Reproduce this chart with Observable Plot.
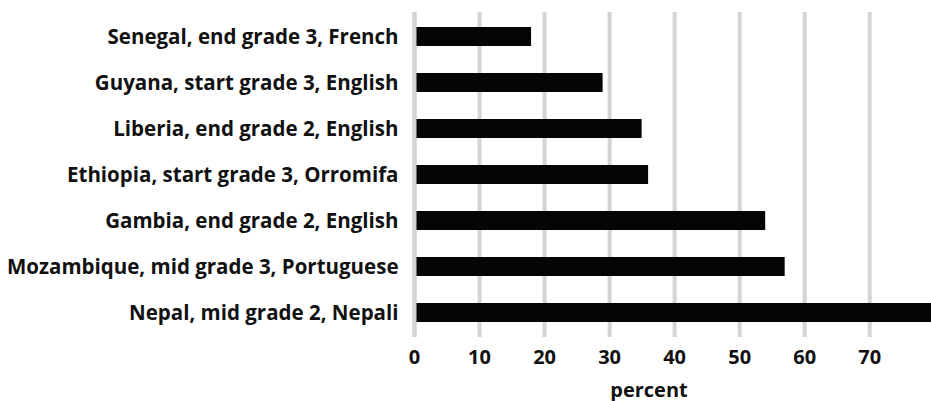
<!DOCTYPE html>
<html>
<head>
<meta charset="utf-8">
<script src="https://cdn.jsdelivr.net/npm/d3@7"></script>
<script src="https://cdn.jsdelivr.net/npm/@observablehq/plot@0.6"></script>
<style>
  html, body { margin: 0; padding: 0; background: #fff; }
  #chart svg { display: block; }
</style>
</head>
<body>
<div id="chart"></div>
<script>
const categories = [
  "Senegal, end grade 3, French",
  "Guyana, start grade 3, English",
  "Liberia, end grade 2, English",
  "Ethiopia, start grade 3, Orromifa",
  "Gambia, end grade 2, English",
  "Mozambique, mid grade 3, Portuguese",
  "Nepal, mid grade 2, Nepali"
];
const values = [18, 29, 35, 36, 54, 57, 80];
const xTicks = [0, 10, 20, 30, 40, 50, 60, 70];
const xLabel = "percent";

const data = categories.map((c, i) => ({category: c, value: values[i]}));

const chart = Plot.plot({
  width: 931,
  height: 401,
  marginLeft: 414,
  marginRight: 0,
  marginTop: 12,
  marginBottom: 64,
  style: {
    fontFamily: "'Open Sans', sans-serif",
    fontWeight: "bold",
    fontSize: "20px",
    color: "#111",
    background: "#fff"
  },
  x: {domain: [0, 79.5]},
  y: {domain: categories, paddingInner: 0.59, paddingOuter: 0.32},
  marks: [
    Plot.gridX(xTicks, {stroke: "#d4d4d4", strokeWidth: 4, strokeOpacity: 1}),
    Plot.barX(data, {y: "category", x: "value", fill: "#050505", clip: true}),
    Plot.ruleX([0], {stroke: "#d4d4d4", strokeWidth: 4, strokeOpacity: 1}),
    Plot.axisX(xTicks, {tickSize: 0, tickPadding: 12, label: null, fontSize: 20, fontWeight: "bold"}),
    Plot.axisY({tickSize: 0, tickPadding: 16, label: null, fontSize: 20.5, fontWeight: "bold"}),
    Plot.text([xLabel], {frameAnchor: "bottom", dy: 59, dx: -24, fontSize: 20, fontWeight: "bold", fill: "#111"})
  ]
});
document.getElementById("chart").appendChild(chart);
</script>
</body>
</html>
